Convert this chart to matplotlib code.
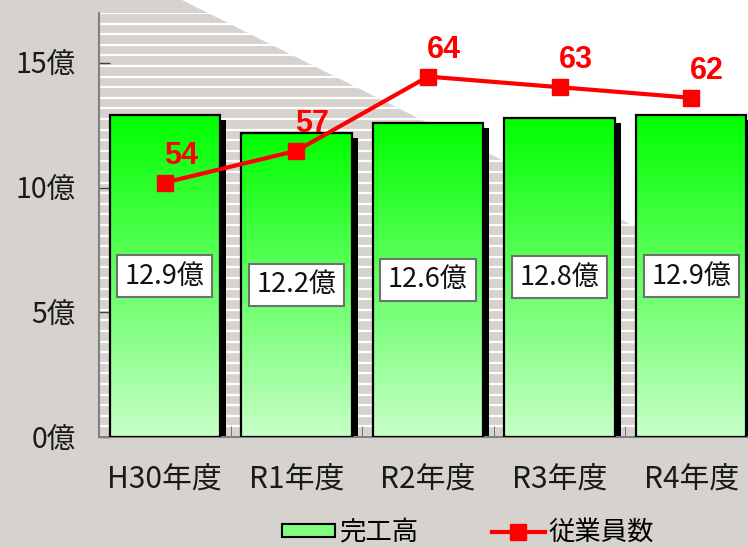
import numpy as np
import matplotlib
matplotlib.use('Agg')
import matplotlib.pyplot as plt
import matplotlib.transforms as mtransforms
from matplotlib.patches import Polygon, Patch
from matplotlib.lines import Line2D
from matplotlib.colors import LinearSegmentedColormap

plt.rcParams['font.family'] = ['Noto Sans CJK JP', 'DejaVu Sans']

# データ
years = ['H30年度', 'R1年度', 'R2年度', 'R3年度', 'R4年度']
sales = [12.9, 12.2, 12.6, 12.8, 12.9]   # 完工高（億）
staff = [54, 57, 64, 63, 62]             # 従業員数
yticks = [0, 5, 10, 15]

fig = plt.figure(figsize=(7.48, 5.47), dpi=100, facecolor='white')

# 背景（左下グレー、右上白）
bg = Polygon([(0, 0), (0, 1), (182 / 748, 1), (1, 1 - 283 / 547), (1, 0)],
             closed=True, transform=fig.transFigure,
             facecolor='#d6d3ce', edgecolor='none', zorder=-10)
fig.patches.append(bg)

ax = fig.add_axes([99 / 748, 1 - 437 / 547, 658 / 748, 424 / 547])
ax.set_facecolor('none')

# 横じま
for k in range(0, 41):
    ax.axhline(17 * k / 40, color='white', lw=1.6, zorder=0)

x = np.arange(len(years))
w = 0.84

# 影
shadow_tr = mtransforms.offset_copy(ax.transData, fig=fig, x=6, y=-5, units='dots')
ax.bar(x, sales, width=w, color='black', transform=shadow_tr, zorder=1)

# 棒（グラデーション）
bars = ax.bar(x, sales, width=w, facecolor='none', edgecolor='black', lw=1.6, zorder=3)
cmap = LinearSegmentedColormap.from_list('g', ['#c8ffc8', '#00ff00'])
grad = np.linspace(0, 1, 256).reshape(-1, 1)
for b in bars:
    x0, h = b.get_x(), b.get_height()
    im = ax.imshow(grad, extent=[x0, x0 + b.get_width(), 0, h], origin='lower',
                   cmap=cmap, aspect='auto', zorder=2)
    im.set_clip_path(b)

# 棒の値ラベル
for b, v in zip(bars, sales):
    ax.text(b.get_x() + b.get_width() / 2, v / 2, f'{v}億', ha='center', va='center',
            fontsize=19.5, color='#111111', zorder=5,
            bbox=dict(boxstyle='square,pad=0.28', fc='white', ec='#707070', lw=1.5))

ax.set_xlim(-0.5, len(years) - 0.5)
ax.set_ylim(0, 17)

ax.set_yticks(yticks)
ax.set_yticklabels([f'{t}億' for t in yticks], fontsize=20.5, color='#1a1a1a')
ax.tick_params(axis='y', direction='in', length=8, width=1, color='#404040', pad=17)
ax.set_xticks(x)
ax.set_xticklabels(years, fontsize=21.5, color='#1a1a1a')
ax.tick_params(axis='x', which='major', length=0, pad=20)
ax.set_xticks(x[:-1] + 0.5, minor=True)
ax.tick_params(axis='x', which='minor', direction='in', length=8, color='#606060')
for s in ['top', 'right']:
    ax.spines[s].set_visible(False)
for s in ['left', 'bottom']:
    ax.spines[s].set_color('#808080')
    ax.spines[s].set_linewidth(1.5)

# 従業員数（第2軸）
ax2 = ax.twinx()
ax2.set_ylim(30, 70)
ax2.plot(x, staff, color='red', lw=3, marker='s', ms=11, zorder=5)
for xi, s in zip(x, staff):
    ax2.annotate(str(s), (xi, s), xytext=(16, 27), textcoords='offset pixels',
                 ha='center', va='center', color='red', fontsize=22,
                 fontweight='bold', family=['Liberation Sans', 'DejaVu Sans'])
ax2.axis('off')

# 凡例
handles = [Patch(facecolor='#80ff80', edgecolor='black', lw=1.5, label='完工高'),
           Line2D([], [], color='red', lw=3, marker='s', ms=11, label='従業員数')]
fig.legend(handles=handles, loc='center', bbox_to_anchor=(0.626, 0.027), ncol=2,
           frameon=False, fontsize=19, handlelength=2.0, handleheight=0.4,
           handletextpad=0.15, columnspacing=2.8)

fig.savefig('out.png', dpi=100)
